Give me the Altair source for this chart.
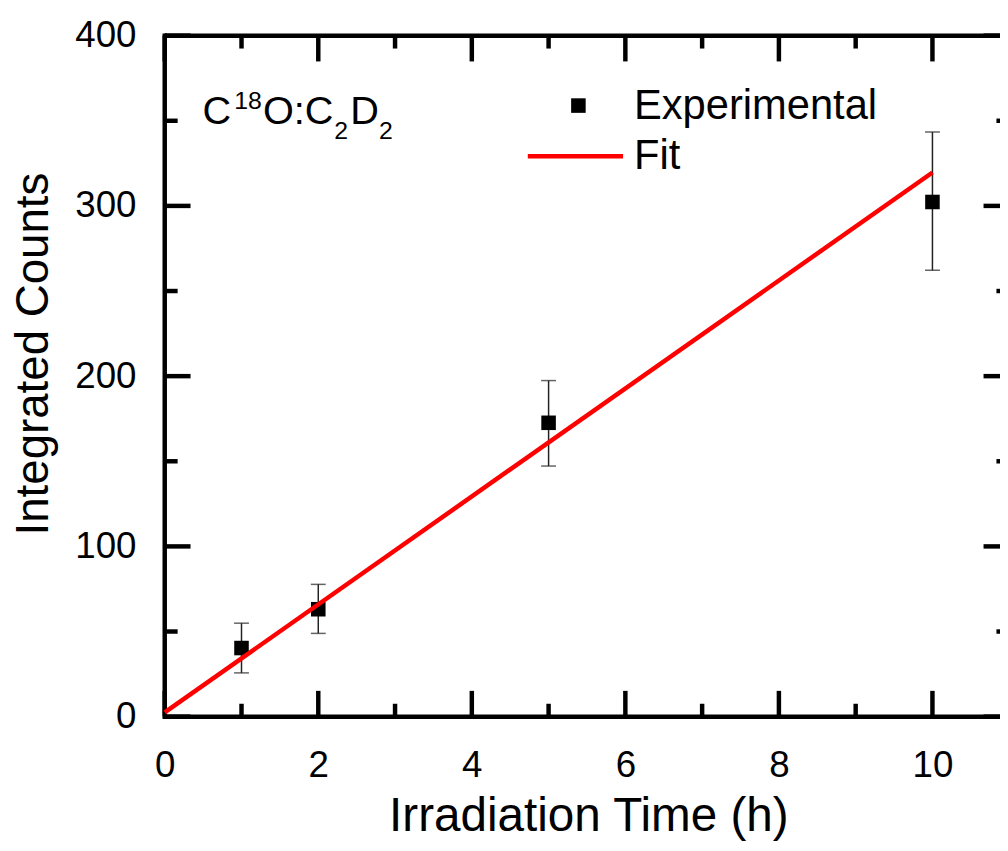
import altair as alt
import pandas as pd

# ---- data ----
time_h = [1, 2, 5, 10]
counts = [40.3, 63.1, 172.6, 302.3]
err_low = [25.7, 48.9, 147.2, 262.2]
err_high = [54.9, 77.7, 197.4, 343.4]

fit_x = [0, 10]
fit_y = [2.5, 319.6]

x_major = [0, 2, 4, 6, 8, 10]
x_minor = [1, 3, 5, 7, 9]
y_major = [0, 100, 200, 300, 400]
y_minor = [50, 150, 250, 350]

W = 842          # plot area runs to the right edge of the window (frame cut off there)
H = 686.5
X_MAX = 10.88    # x value at the window's right edge
FONT = "Liberation Sans"
SW = 4.5         # frame / tick stroke width

pts = pd.DataFrame({"x": time_h, "y": counts, "lo": err_low, "hi": err_high})
fit = pd.DataFrame({"x": fit_x, "y": fit_y})

x_axis = alt.Axis(values=x_major, ticks=False, domain=False, grid=False, format="d",
                  labelFontSize=37, labelFont=FONT, labelColor="black", labelPadding=31,
                  labelFlush=False, labelOverlap=False,
                  title="Irradiation Time (h)", titleFont=FONT, titleFontSize=48,
                  titleFontWeight="normal", titleColor="black",
                  titleX=427, titleY=115, titleBaseline="alphabetic", titleAlign="center")
y_axis = alt.Axis(values=y_major, ticks=False, domain=False, grid=False, format="d",
                  labelFontSize=37, labelFont=FONT, labelColor="black", labelPadding=29,
                  labelFlush=False, labelOverlap=False,
                  title="Integrated Counts", titleFont=FONT, titleFontSize=46,
                  titleFontWeight="normal", titleColor="black", titleAngle=270,
                  titleX=-118, titleY=320.5, titleBaseline="alphabetic", titleAlign="center")

xs = alt.Scale(domain=[0, X_MAX], nice=False, zero=False)
ys = alt.Scale(domain=[0, 400], nice=False, zero=False)


def X(field="x"):
    return alt.X(f"{field}:Q", scale=xs, axis=x_axis, title="Irradiation Time (h)")


def Y(field="y"):
    return alt.Y(f"{field}:Q", scale=ys, axis=y_axis, title="Integrated Counts")


dummy = alt.Data(values=[{"a": 1}])
layers = []

# frame (left, top, bottom; the right side lies beyond the window edge)
layers += [
    alt.Chart(dummy).mark_rule(color="black", strokeWidth=SW).encode(
        x=alt.value(0), y=alt.value(-SW / 2), y2=alt.value(H + SW / 2)),
    alt.Chart(dummy).mark_rule(color="black", strokeWidth=SW).encode(
        x=alt.value(0), x2=alt.value(W), y=alt.value(0)),
    alt.Chart(dummy).mark_rule(color="black", strokeWidth=SW).encode(
        x=alt.value(0), x2=alt.value(W), y=alt.value(H)),
]


# inward ticks
def xticks(vals, length):
    df = pd.DataFrame({"x": vals})
    bottom = alt.Chart(df).mark_rule(color="black", strokeWidth=SW).encode(
        x=X(), y=alt.value(H), y2=alt.value(H - length))
    top = alt.Chart(df).mark_rule(color="black", strokeWidth=SW).encode(
        x=X(), y=alt.value(0), y2=alt.value(length))
    return [bottom, top]


def yticks(vals, length):
    df = pd.DataFrame({"y": vals})
    left = alt.Chart(df).mark_rule(color="black", strokeWidth=SW).encode(
        y=Y(), x=alt.value(0), x2=alt.value(length))
    # right frame sits ~9px beyond the window edge; only the inner part of its ticks shows
    right = alt.Chart(df).mark_rule(color="black", strokeWidth=SW).encode(
        y=Y(), x=alt.value(W), x2=alt.value(W + 9.4 - length))
    return [left, right]


layers += xticks(x_major, 26) + xticks(x_minor, 13) + yticks(y_major, 26) + yticks(y_minor, 13)

# error bars
err = alt.Chart(pts).mark_rule(color="#222222", strokeWidth=1.5).encode(
    x=X(), y=Y("lo"), y2="hi:Q")
cap_lo = alt.Chart(pts).mark_tick(color="#222222", orient="horizontal", size=15, thickness=1.5).encode(
    x=X(), y=Y("lo"))
cap_hi = alt.Chart(pts).mark_tick(color="#222222", orient="horizontal", size=15, thickness=1.5).encode(
    x=X(), y=Y("hi"))
squares = alt.Chart(pts).mark_square(color="black", size=215, opacity=1, filled=True).encode(
    x=X(), y=Y())
line = alt.Chart(fit).mark_line(color="#ff0000", strokeWidth=4.5).encode(x=X(), y=Y())

layers += [err, cap_lo, cap_hi, squares, line]


def txt(s, x, y, size):
    return alt.Chart(dummy).mark_text(text=s, font=FONT, fontSize=size, color="black",
                                      align="left", baseline="alphabetic").encode(
        x=alt.value(x), y=alt.value(y))


# annotation C18O:C2D2
layers += [
    txt("C", 38, 89.5, 40),
    txt("18", 70, 73.5, 25),
    txt("O:C", 99, 89.5, 40),
    txt("2", 171, 104.5, 25),
    txt("D", 187, 89.5, 40),
    txt("2", 216, 104.5, 25),
]

# legend
layers += [
    alt.Chart(dummy).mark_square(color="black", size=215, filled=True, opacity=1).encode(
        x=alt.value(417), y=alt.value(70.5)),
    txt("Experimental", 473, 84.5, 42),
    alt.Chart(dummy).mark_rule(color="#ff0000", strokeWidth=4.5).encode(
        x=alt.value(366), x2=alt.value(462), y=alt.value(121.5)),
    txt("Fit", 473, 134.5, 42),
]

chart = alt.layer(*layers).properties(
    width=W, height=H,
    autosize=alt.AutoSizeParams(type="none"),
    padding={"left": 158, "top": 24.5, "right": 0, "bottom": 124},
    background="white",
).configure_view(stroke=None)

chart.save("out.html", embed_options={"renderer": "svg", "actions": False})
